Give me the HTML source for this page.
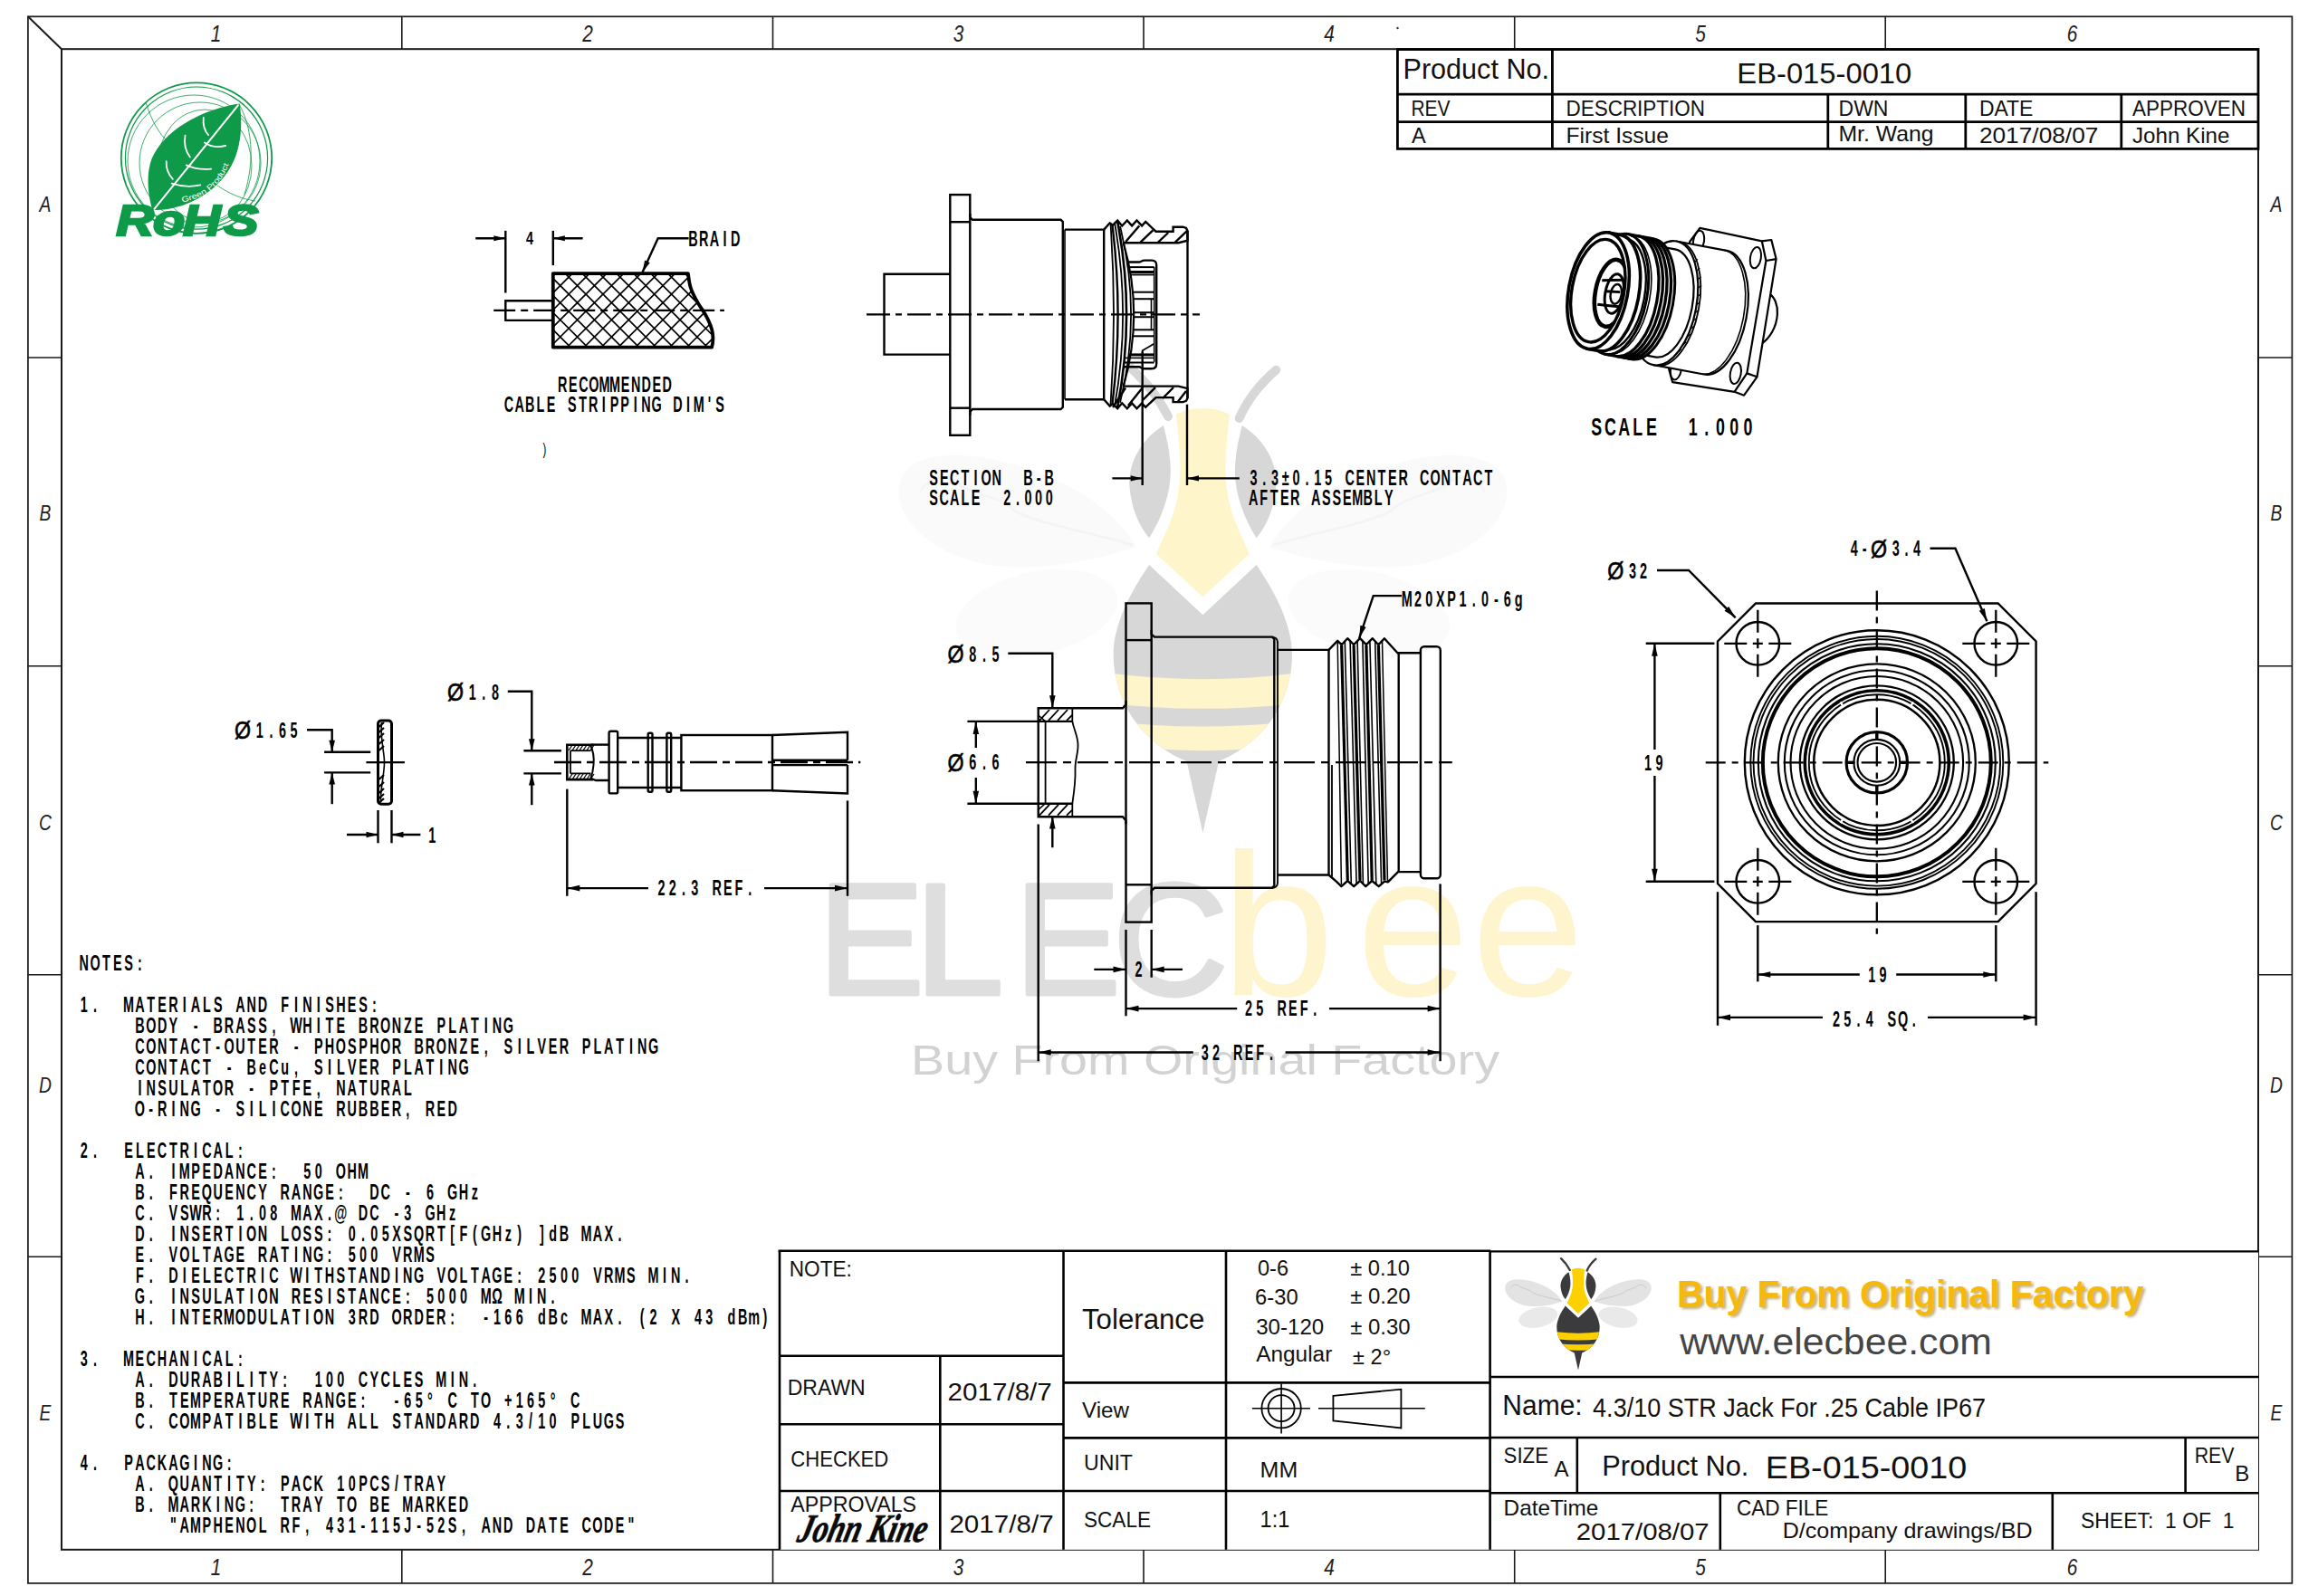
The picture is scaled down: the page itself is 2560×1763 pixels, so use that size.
<!DOCTYPE html>
<html lang="en"><head><meta charset="utf-8"><title>EB-015-0010 4.3/10 STR Jack For .25 Cable IP67</title>
<style>html,body{margin:0;padding:0;background:#fff}svg{display:block}text{font-family:"Liberation Sans",Arial,sans-serif;white-space:pre}.cad{text-anchor:middle}</style></head><body>
<svg width="2560" height="1763" viewBox="0 0 2560 1763">
<rect x="0" y="0" width="2560" height="1763" style="fill:#fff"/>
<defs>
<clipPath id="beeBody"><path d="M93.5 71L108.5 85L123.5 71C129 79 133.5 88 133.5 96C133.5 108 127 120 113 126L108.5 146L104 126C90 120 83.5 108 83.5 96C83.5 88 88 79 93.5 71Z"/></clipPath>
<g id="beeWings">
<g fill="#e3e3e3" stroke="none">
<ellipse cx="62" cy="84.5" rx="23" ry="11.5" transform="rotate(-12 62 84.5)" fill="#e9e9e9"/>
<ellipse cx="155" cy="84.5" rx="23" ry="11.5" transform="rotate(12 155 84.5)" fill="#e9e9e9"/>
<path d="M90 66C78 70 58 74 44 70C30 66 21 56 24 47C27 39 42 39 56 43C72 47.5 84 56 90 66Z"/>
<path d="M127 66C139 70 159 74 173 70C187 66 196 56 193 47C190 39 175 39 161 43C145 47.5 133 56 127 66Z"/>
</g>
<path d="M29.5 50.5C33 45 38 46 41 49C47 52 52 52 56 56C64 60 78 62 89 65.5" stroke="#bdbdbd" stroke-width="0.7" fill="none"/>
<path d="M187.5 50.5C184 45 179 46 176 49C170 52 165 52 161 56C153 60 139 62 128 65.5" stroke="#bdbdbd" stroke-width="0.7" fill="none"/>
</g>
<g id="beeCore">
<path d="M88.5 16Q95 22 98.8 29.5M129 16.5Q122 22.5 118.7 30" stroke="#3b3b3d" stroke-width="2.5" stroke-linecap="round" fill="none"/>
<path d="M101 28.8Q108.5 25.5 116 28.8C115 38 114 46 116 54C117.5 60 120 64 121.5 68L108.5 80L95.5 68C97 64 99.5 60 101 54C103 46 102 38 101 28.8Z" fill="#fdd000"/>
<path d="M97.5 32C91 36 87.5 43 88 49C88.5 55 90.5 60 93.5 63.5C97 58 99.5 51 99.5 45C99.5 40 98.5 36 97.5 32Z" fill="#3b3b3d"/>
<path d="M119.5 32C126 36 129.5 43 129 49C128.5 55 126.5 60 123.5 63.5C120 58 117.5 51 117.5 45C117.5 40 118.5 36 119.5 32Z" fill="#3b3b3d"/>
<path d="M93.5 71L108.5 85L123.5 71C129 79 133.5 88 133.5 96C133.5 108 127 120 113 126L108.5 146L104 126C90 120 83.5 108 83.5 96C83.5 88 88 79 93.5 71Z" fill="#3b3b3d"/>
<g clip-path="url(#beeBody)" fill="#fdd000"><path d="M80 101Q108.5 105 137 101L137 109.5Q108.5 113 80 109.5Z"/><path d="M80 114.5Q108.5 118 137 114.5L137 121Q108.5 125 80 121Z"/></g>
</g>
<filter id="blur2" x="-5%" y="-20%" width="110%" height="140%"><feGaussianBlur stdDeviation="1.6"/></filter>
</defs>
<g id="watermark">
<g transform="translate(900 343.6) scale(3.948)"><use href="#beeWings" opacity="0.16"/><use href="#beeCore" opacity="0.2"/></g>
<text x="903.7 1010.7 1120.7 1229.5" y="1098" font-size="175" fill="#dedede" stroke="#dedede" stroke-width="5" stroke-linejoin="round">ELEC</text>
<text x="1349 1498 1625" y="1100.4" font-size="224" fill="#fef5cf">bee</text>
<text x="1006" y="1186.6" font-size="45.5" textLength="650" lengthAdjust="spacingAndGlyphs" fill="#d2d2d2">Buy From Original Factory</text>
</g>
<g id="frame">
<rect x="30.9" y="18.3" width="2500.5" height="1730.6" stroke="#1a1a1a" stroke-width="1.7" fill="none"/>
<rect x="68" y="54.2" width="2426" height="1657.6" stroke="#1a1a1a" stroke-width="2" fill="none"/>
<path d="M30.9 18.3L68 54.2" stroke="#1a1a1a" stroke-width="2" />
<path d="M443.8 18.3L443.8 54.2" stroke="#1a1a1a" stroke-width="1.6" />
<path d="M443.8 1711.8L443.8 1748.9" stroke="#1a1a1a" stroke-width="1.6" />
<path d="M853.5 18.3L853.5 54.2" stroke="#1a1a1a" stroke-width="1.6" />
<path d="M853.5 1711.8L853.5 1748.9" stroke="#1a1a1a" stroke-width="1.6" />
<path d="M1263 18.3L1263 54.2" stroke="#1a1a1a" stroke-width="1.6" />
<path d="M1263 1711.8L1263 1748.9" stroke="#1a1a1a" stroke-width="1.6" />
<path d="M1672.7 18.3L1672.7 54.2" stroke="#1a1a1a" stroke-width="1.6" />
<path d="M1672.7 1711.8L1672.7 1748.9" stroke="#1a1a1a" stroke-width="1.6" />
<path d="M2082.2 18.3L2082.2 54.2" stroke="#1a1a1a" stroke-width="1.6" />
<path d="M2082.2 1711.8L2082.2 1748.9" stroke="#1a1a1a" stroke-width="1.6" />
<path d="M30.9 395L68 395" stroke="#1a1a1a" stroke-width="1.6" />
<path d="M2494 395L2531.4 395" stroke="#1a1a1a" stroke-width="1.6" />
<path d="M30.9 735.8L68 735.8" stroke="#1a1a1a" stroke-width="1.6" />
<path d="M2494 735.8L2531.4 735.8" stroke="#1a1a1a" stroke-width="1.6" />
<path d="M30.9 1076.8L68 1076.8" stroke="#1a1a1a" stroke-width="1.6" />
<path d="M2494 1076.8L2531.4 1076.8" stroke="#1a1a1a" stroke-width="1.6" />
<path d="M30.9 1388.3L68 1388.3" stroke="#1a1a1a" stroke-width="1.6" />
<path d="M2494 1388.3L2531.4 1388.3" stroke="#1a1a1a" stroke-width="1.6" />
<text transform="matrix(0.8 0 0 1 238.5 45.5)" x="0" y="0" font-size="26" font-style="italic" text-anchor="middle" fill="#222">1</text>
<text transform="matrix(0.8 0 0 1 238.5 1740)" x="0" y="0" font-size="26" font-style="italic" text-anchor="middle" fill="#222">1</text>
<text transform="matrix(0.8 0 0 1 649 45.5)" x="0" y="0" font-size="26" font-style="italic" text-anchor="middle" fill="#222">2</text>
<text transform="matrix(0.8 0 0 1 649 1740)" x="0" y="0" font-size="26" font-style="italic" text-anchor="middle" fill="#222">2</text>
<text transform="matrix(0.8 0 0 1 1058.5 45.5)" x="0" y="0" font-size="26" font-style="italic" text-anchor="middle" fill="#222">3</text>
<text transform="matrix(0.8 0 0 1 1058.5 1740)" x="0" y="0" font-size="26" font-style="italic" text-anchor="middle" fill="#222">3</text>
<text transform="matrix(0.8 0 0 1 1468 45.5)" x="0" y="0" font-size="26" font-style="italic" text-anchor="middle" fill="#222">4</text>
<text transform="matrix(0.8 0 0 1 1468 1740)" x="0" y="0" font-size="26" font-style="italic" text-anchor="middle" fill="#222">4</text>
<text transform="matrix(0.8 0 0 1 1878 45.5)" x="0" y="0" font-size="26" font-style="italic" text-anchor="middle" fill="#222">5</text>
<text transform="matrix(0.8 0 0 1 1878 1740)" x="0" y="0" font-size="26" font-style="italic" text-anchor="middle" fill="#222">5</text>
<text transform="matrix(0.8 0 0 1 2288.5 45.5)" x="0" y="0" font-size="26" font-style="italic" text-anchor="middle" fill="#222">6</text>
<text transform="matrix(0.8 0 0 1 2288.5 1740)" x="0" y="0" font-size="26" font-style="italic" text-anchor="middle" fill="#222">6</text>
<text transform="matrix(0.8 0 0 1 50 234)" x="0" y="0" font-size="24" font-style="italic" text-anchor="middle" fill="#222">A</text>
<text transform="matrix(0.8 0 0 1 2514 234)" x="0" y="0" font-size="24" font-style="italic" text-anchor="middle" fill="#222">A</text>
<text transform="matrix(0.8 0 0 1 50 574.5)" x="0" y="0" font-size="24" font-style="italic" text-anchor="middle" fill="#222">B</text>
<text transform="matrix(0.8 0 0 1 2514 574.5)" x="0" y="0" font-size="24" font-style="italic" text-anchor="middle" fill="#222">B</text>
<text transform="matrix(0.8 0 0 1 50 916.5)" x="0" y="0" font-size="24" font-style="italic" text-anchor="middle" fill="#222">C</text>
<text transform="matrix(0.8 0 0 1 2514 916.5)" x="0" y="0" font-size="24" font-style="italic" text-anchor="middle" fill="#222">C</text>
<text transform="matrix(0.8 0 0 1 50 1206.5)" x="0" y="0" font-size="24" font-style="italic" text-anchor="middle" fill="#222">D</text>
<text transform="matrix(0.8 0 0 1 2514 1206.5)" x="0" y="0" font-size="24" font-style="italic" text-anchor="middle" fill="#222">D</text>
<text transform="matrix(0.8 0 0 1 50 1568.5)" x="0" y="0" font-size="24" font-style="italic" text-anchor="middle" fill="#222">E</text>
<text transform="matrix(0.8 0 0 1 2514 1568.5)" x="0" y="0" font-size="24" font-style="italic" text-anchor="middle" fill="#222">E</text>
</g>
<g id="revtable">
<rect x="1543.4" y="54.6" width="950.6" height="109.8" fill="#fff" stroke="none"/>
<rect x="1543.4" y="54.6" width="950.6" height="109.8" stroke="#000" stroke-width="2.8" fill="none"/>
<path d="M1543.4 104.2L2494 104.2" stroke="#000" stroke-width="2.8" />
<path d="M1543.4 134.6L2494 134.6" stroke="#000" stroke-width="2.8" />
<path d="M1714.4 54.6L1714.4 164.4" stroke="#000" stroke-width="2.8" />
<path d="M2018.8 104.2L2018.8 164.4" stroke="#000" stroke-width="2.8" />
<path d="M2170.8 104.2L2170.8 164.4" stroke="#000" stroke-width="2.8" />
<path d="M2342.8 104.2L2342.8 164.4" stroke="#000" stroke-width="2.8" />
<text x="1549.5" y="87" font-size="30.5" textLength="161.5" lengthAdjust="spacingAndGlyphs" fill="#111" >Product No.</text>
<text x="1918.3" y="92.4" font-size="31" textLength="193" lengthAdjust="spacingAndGlyphs" fill="#111" >EB-015-0010</text>
<text x="1558.5" y="127.6" font-size="23.6" textLength="43" lengthAdjust="spacingAndGlyphs" fill="#111" >REV</text>
<text x="1729.5" y="128" font-size="23.6" textLength="153.5" lengthAdjust="spacingAndGlyphs" fill="#111" >DESCRIPTION</text>
<text x="2030.5" y="127.6" font-size="23.6" textLength="55" lengthAdjust="spacingAndGlyphs" fill="#111" >DWN</text>
<text x="2185.9" y="127.6" font-size="23.6" textLength="59.5" lengthAdjust="spacingAndGlyphs" fill="#111" >DATE</text>
<text x="2355" y="127.6" font-size="23.6" textLength="125" lengthAdjust="spacingAndGlyphs" fill="#111" >APPROVEN</text>
<text x="1559" y="158" font-size="23.6" fill="#111" >A</text>
<text x="1729.5" y="158" font-size="23.6" textLength="113.5" lengthAdjust="spacingAndGlyphs" fill="#111" >First Issue</text>
<text x="2030.5" y="155.5" font-size="23.6" textLength="105" lengthAdjust="spacingAndGlyphs" fill="#111" >Mr. Wang</text>
<text x="2185.9" y="158.3" font-size="23.6" textLength="131.5" lengthAdjust="spacingAndGlyphs" fill="#111" >2017/08/07</text>
<text x="2355" y="157.8" font-size="23.6" textLength="107.5" lengthAdjust="spacingAndGlyphs" fill="#111" >John Kine</text>
</g>
<circle cx="1543.5" cy="31" r="1.2" fill="#333"/>
<g id="titleblock">
<rect x="861" y="1381.8" width="1633" height="330" fill="#fff" stroke="none"/>
<path d="M859.6 1381.8L1646 1381.8" stroke="#000" stroke-width="2.6" />
<path d="M861 1381.8L861 1711.8" stroke="#000" stroke-width="2.6" />
<path d="M1174.5 1381.8L1174.5 1711.8" stroke="#000" stroke-width="2.6" />
<path d="M1354 1381.8L1354 1711.8" stroke="#000" stroke-width="2.6" />
<path d="M1645.6 1381.8L1645.6 1711.8" stroke="#000" stroke-width="2.6" />
<path d="M861 1497.8L1174.5 1497.8" stroke="#000" stroke-width="2.6" />
<path d="M861 1573.2L1174.5 1573.2" stroke="#000" stroke-width="2.6" />
<path d="M861 1647L1645.6 1647" stroke="#000" stroke-width="2.6" />
<path d="M1038.3 1497.8L1038.3 1711.8" stroke="#000" stroke-width="2.6" />
<path d="M1174.5 1527.4L1645.6 1527.4" stroke="#000" stroke-width="2.6" />
<path d="M1174.5 1588.4L1645.6 1588.4" stroke="#000" stroke-width="2.6" />
<path d="M1645.6 1382.4L2494 1382.4" stroke="#000" stroke-width="2.4" />
<path d="M1645.6 1521L2494 1521" stroke="#000" stroke-width="2.6" />
<path d="M1645.6 1588L2494 1588" stroke="#000" stroke-width="2.6" />
<path d="M1645.6 1649.2L2494 1649.2" stroke="#000" stroke-width="2.6" />
<path d="M1741.8 1588L1741.8 1649.2" stroke="#000" stroke-width="2.6" />
<path d="M2413.6 1588L2413.6 1649.2" stroke="#000" stroke-width="2.6" />
<path d="M1899.8 1649.2L1899.8 1711.8" stroke="#000" stroke-width="2.6" />
<path d="M2266.8 1649.2L2266.8 1711.8" stroke="#000" stroke-width="2.6" />
<text x="871.8" y="1410" font-size="24.3" textLength="69" lengthAdjust="spacingAndGlyphs" fill="#111" >NOTE:</text>
<text x="869.7" y="1541.2" font-size="23.6" textLength="86" lengthAdjust="spacingAndGlyphs" fill="#111" >DRAWN</text>
<text x="1046.6" y="1547.4" font-size="27.5" textLength="115.2" lengthAdjust="spacingAndGlyphs" fill="#111" >2017/8/7</text>
<text x="873.3" y="1619.8" font-size="23.6" textLength="108" lengthAdjust="spacingAndGlyphs" fill="#111" >CHECKED</text>
<text x="873.3" y="1669.8" font-size="23.6" textLength="138.8" lengthAdjust="spacingAndGlyphs" fill="#111" >APPROVALS</text>
<text x="1048.4" y="1693.4" font-size="27.5" textLength="115.2" lengthAdjust="spacingAndGlyphs" fill="#111" >2017/8/7</text>
<text transform="matrix(1 0 -0.25 1 879 1703)" x="0" y="0" style="font-family:Liberation Serif,serif" font-size="44" font-style="italic" font-weight="bold" textLength="142" lengthAdjust="spacingAndGlyphs" fill="#0a0a0a" stroke="#0a0a0a" stroke-width="0.8">John Kine</text>
<text x="1195" y="1468" font-size="31" textLength="135.3" lengthAdjust="spacingAndGlyphs" fill="#111" >Tolerance</text>
<text x="1195" y="1565.5" font-size="23.5" textLength="52" lengthAdjust="spacingAndGlyphs" fill="#111" >View</text>
<text x="1197" y="1623.5" font-size="23" textLength="54" lengthAdjust="spacingAndGlyphs" fill="#111" >UNIT</text>
<text x="1197" y="1687.2" font-size="23" textLength="74" lengthAdjust="spacingAndGlyphs" fill="#111" >SCALE</text>
<text x="1389" y="1408.9" font-size="23" textLength="34" lengthAdjust="spacingAndGlyphs" fill="#111" >0-6</text>
<text x="1491.2" y="1408.9" font-size="23" textLength="65.6" lengthAdjust="spacingAndGlyphs" fill="#111" >± 0.10</text>
<text x="1386.1" y="1440.8" font-size="23" textLength="47.5" lengthAdjust="spacingAndGlyphs" fill="#111" >6-30</text>
<text x="1491.2" y="1439.7" font-size="23" textLength="66.3" lengthAdjust="spacingAndGlyphs" fill="#111" >± 0.20</text>
<text x="1387.2" y="1474.2" font-size="23" textLength="75" lengthAdjust="spacingAndGlyphs" fill="#111" >30-120</text>
<text x="1491.2" y="1474.2" font-size="23" textLength="66.3" lengthAdjust="spacingAndGlyphs" fill="#111" >± 0.30</text>
<text x="1387.2" y="1504.2" font-size="23" textLength="84.1" lengthAdjust="spacingAndGlyphs" fill="#111" >Angular</text>
<text x="1494.1" y="1506.8" font-size="23" textLength="42" lengthAdjust="spacingAndGlyphs" fill="#111" >± 2°</text>
<text x="1391.6" y="1631.8" font-size="23.6" textLength="41.6" lengthAdjust="spacingAndGlyphs" fill="#111" >MM</text>
<text x="1391.6" y="1687.2" font-size="25" textLength="32.6" lengthAdjust="spacingAndGlyphs" fill="#111" >1:1</text>
<circle cx="1415.1" cy="1555.7" r="21.7" stroke="#000" stroke-width="1.8" fill="none"/>
<circle cx="1415.1" cy="1555.7" r="14.5" stroke="#000" stroke-width="1.8" fill="none"/>
<path d="M1382.9 1555.7L1447 1555.7" stroke="#000" stroke-width="1.6" />
<path d="M1415.1 1528.5L1415.1 1583.6" stroke="#000" stroke-width="1.6" />
<path d="M1472.4 1541.9L1547.4 1534.7L1547.4 1577.4L1472.4 1569.5Z" stroke="#000" stroke-width="1.8" fill="none" />
<path d="M1456 1555.7L1573.8 1555.7" stroke="#000" stroke-width="1.6" />
<text x="1659.3" y="1562.8" font-size="31" textLength="88.4" lengthAdjust="spacingAndGlyphs" fill="#111" >Name:</text>
<text x="1759.1" y="1564.8" font-size="29" textLength="434" lengthAdjust="spacingAndGlyphs" fill="#111" >4.3/10 STR Jack For .25 Cable IP67</text>
<text x="1660.6" y="1615.5" font-size="24" textLength="49.4" lengthAdjust="spacingAndGlyphs" fill="#111" >SIZE</text>
<text x="1716.5" y="1630.9" font-size="24" fill="#111" >A</text>
<text x="1769.2" y="1629.7" font-size="31" textLength="162.2" lengthAdjust="spacingAndGlyphs" fill="#111" >Product No.</text>
<text x="1949.7" y="1632.5" font-size="35" textLength="222.6" lengthAdjust="spacingAndGlyphs" fill="#111" >EB-015-0010</text>
<text x="2423.7" y="1615.5" font-size="24" textLength="43.8" lengthAdjust="spacingAndGlyphs" fill="#111" >REV</text>
<text x="2468.3" y="1635.8" font-size="24" fill="#111" >B</text>
<text x="1660.6" y="1673.5" font-size="24" textLength="104.6" lengthAdjust="spacingAndGlyphs" fill="#111" >DateTime</text>
<text x="1740.8" y="1700.6" font-size="25.5" textLength="146.8" lengthAdjust="spacingAndGlyphs" fill="#111" >2017/08/07</text>
<text x="1918" y="1673.5" font-size="24" textLength="101.4" lengthAdjust="spacingAndGlyphs" fill="#111" >CAD FILE</text>
<text x="1968.7" y="1698.6" font-size="24" textLength="275.8" lengthAdjust="spacingAndGlyphs" fill="#111" >D/company drawings/BD</text>
<text x="2298" y="1687.7" font-size="24" textLength="169.5" lengthAdjust="spacingAndGlyphs" xml:space="preserve" fill="#111" >SHEET:  1 OF  1</text>
</g>
<g id="logo">
<g transform="translate(1640 1375) scale(0.9491)"><use href="#beeWings"/><use href="#beeCore"/></g>
<text x="1854.5" y="1446.4" font-size="43" font-weight="bold" textLength="515.4" lengthAdjust="spacingAndGlyphs" fill="#8a6d10" opacity="0.55" filter="url(#blur2)">Buy From Original Factory</text>
<text x="1852" y="1443.9" font-size="43" font-weight="bold" textLength="515.4" lengthAdjust="spacingAndGlyphs" fill="#f6b90b">Buy From Original Factory</text>
<text x="1855.2" y="1495.8" font-size="41.5" textLength="344.7" lengthAdjust="spacingAndGlyphs" fill="#454545">www.elecbee.com</text>
</g>
<g id="notes">
<text class="cad" xml:space="preserve" transform="matrix(0.6 0 0 1 86.6 1072)" x="10.28 30.83 51.38 71.93 92.48 113.03" y="0" font-size="24" font-weight="bold" fill="#000" >NOTES:</text>
<text class="cad" xml:space="preserve" transform="matrix(0.6 0 0 1 86.6 1118)" x="10.28 30.83 51.38 71.93 92.48 113.03 133.57 154.12 174.68 195.23 215.78 236.32 256.88 277.43 297.98 318.53 339.07 359.62 380.18 400.73 421.28 441.83 462.38 482.93 503.47 524.03 544.58" y="0" font-size="24" font-weight="bold" fill="#000" >1.  MATERIALS AND FINISHES:</text>
<text class="cad" xml:space="preserve" transform="matrix(0.6 0 0 1 148.25 1141)" x="10.28 30.83 51.38 71.93 92.48 113.03 133.57 154.12 174.68 195.23 215.78 236.32 256.88 277.43 297.98 318.53 339.07 359.62 380.18 400.73 421.28 441.83 462.38 482.93 503.47 524.03 544.58 565.12 585.68 606.23 626.77 647.33 667.88 688.43" y="0" font-size="24" font-weight="bold" fill="#000" >BODY - BRASS, WHITE BRONZE PLATING</text>
<text class="cad" xml:space="preserve" transform="matrix(0.6 0 0 1 148.25 1164)" x="10.28 30.83 51.38 71.93 92.48 113.03 133.57 154.12 174.68 195.23 215.78 236.32 256.88 277.43 297.98 318.53 339.07 359.62 380.18 400.73 421.28 441.83 462.38 482.93 503.47 524.03 544.58 565.12 585.68 606.23 626.77 647.33 667.88 688.43 708.98 729.52 750.08 770.62 791.17 811.73 832.28 852.83 873.38 893.93 914.48 935.02 955.58" y="0" font-size="24" font-weight="bold" fill="#000" >CONTACT-OUTER - PHOSPHOR BRONZE, SILVER PLATING</text>
<text class="cad" xml:space="preserve" transform="matrix(0.6 0 0 1 148.25 1187)" x="10.28 30.83 51.38 71.93 92.48 113.03 133.57 154.12 174.68 195.23 215.78 236.32 256.88 277.43 297.98 318.53 339.07 359.62 380.18 400.73 421.28 441.83 462.38 482.93 503.47 524.03 544.58 565.12 585.68 606.23" y="0" font-size="24" font-weight="bold" fill="#000" >CONTACT - BeCu, SILVER PLATING</text>
<text class="cad" xml:space="preserve" transform="matrix(0.6 0 0 1 148.25 1210)" x="10.28 30.83 51.38 71.93 92.48 113.03 133.57 154.12 174.68 195.23 215.78 236.32 256.88 277.43 297.98 318.53 339.07 359.62 380.18 400.73 421.28 441.83 462.38 482.93 503.47" y="0" font-size="24" font-weight="bold" fill="#000" >INSULATOR - PTFE, NATURAL</text>
<text class="cad" xml:space="preserve" transform="matrix(0.6 0 0 1 148.25 1233)" x="10.28 30.83 51.38 71.93 92.48 113.03 133.57 154.12 174.68 195.23 215.78 236.32 256.88 277.43 297.98 318.53 339.07 359.62 380.18 400.73 421.28 441.83 462.38 482.93 503.47 524.03 544.58 565.12 585.68" y="0" font-size="24" font-weight="bold" fill="#000" >O-RING - SILICONE RUBBER, RED</text>
<text class="cad" xml:space="preserve" transform="matrix(0.6 0 0 1 86.6 1279)" x="10.28 30.83 51.38 71.93 92.48 113.03 133.57 154.12 174.68 195.23 215.78 236.32 256.88 277.43 297.98" y="0" font-size="24" font-weight="bold" fill="#000" >2.  ELECTRICAL:</text>
<text class="cad" xml:space="preserve" transform="matrix(0.6 0 0 1 148.25 1302)" x="10.28 30.83 51.38 71.93 92.48 113.03 133.57 154.12 174.68 195.23 215.78 236.32 256.88 277.43 297.98 318.53 339.07 359.62 380.18 400.73 421.28" y="0" font-size="24" font-weight="bold" fill="#000" >A. IMPEDANCE:  50 OHM</text>
<text class="cad" xml:space="preserve" transform="matrix(0.6 0 0 1 148.25 1325)" x="10.28 30.83 51.38 71.93 92.48 113.03 133.57 154.12 174.68 195.23 215.78 236.32 256.88 277.43 297.98 318.53 339.07 359.62 380.18 400.73 421.28 441.83 462.38 482.93 503.47 524.03 544.58 565.12 585.68 606.23 626.77" y="0" font-size="24" font-weight="bold" fill="#000" >B. FREQUENCY RANGE:  DC - 6 GHz</text>
<text class="cad" xml:space="preserve" transform="matrix(0.6 0 0 1 148.25 1348)" x="10.28 30.83 51.38 71.93 92.48 113.03 133.57 154.12 174.68 195.23 215.78 236.32 256.88 277.43 297.98 318.53 339.07 359.62 380.18 400.73 421.28 441.83 462.38 482.93 503.47 524.03 544.58 565.12 585.68" y="0" font-size="24" font-weight="bold" fill="#000" >C. VSWR: 1.08 MAX.@ DC -3 GHz</text>
<text class="cad" xml:space="preserve" transform="matrix(0.6 0 0 1 148.25 1371)" x="10.28 30.83 51.38 71.93 92.48 113.03 133.57 154.12 174.68 195.23 215.78 236.32 256.88 277.43 297.98 318.53 339.07 359.62 380.18 400.73 421.28 441.83 462.38 482.93 503.47 524.03 544.58 565.12 585.68 606.23 626.77 647.33 667.88 688.43 708.98 729.52 750.08 770.62 791.17 811.73 832.28 852.83 873.38 893.93" y="0" font-size="24" font-weight="bold" fill="#000" >D. INSERTION LOSS: 0.05XSQRT[F(GHz) ]dB MAX.</text>
<text class="cad" xml:space="preserve" transform="matrix(0.6 0 0 1 148.25 1394)" x="10.28 30.83 51.38 71.93 92.48 113.03 133.57 154.12 174.68 195.23 215.78 236.32 256.88 277.43 297.98 318.53 339.07 359.62 380.18 400.73 421.28 441.83 462.38 482.93 503.47 524.03 544.58" y="0" font-size="24" font-weight="bold" fill="#000" >E. VOLTAGE RATING: 500 VRMS</text>
<text class="cad" xml:space="preserve" transform="matrix(0.6 0 0 1 148.25 1417)" x="10.28 30.83 51.38 71.93 92.48 113.03 133.57 154.12 174.68 195.23 215.78 236.32 256.88 277.43 297.98 318.53 339.07 359.62 380.18 400.73 421.28 441.83 462.38 482.93 503.47 524.03 544.58 565.12 585.68 606.23 626.77 647.33 667.88 688.43 708.98 729.52 750.08 770.62 791.17 811.73 832.28 852.83 873.38 893.93 914.48 935.02 955.58 976.12 996.68 1017.23" y="0" font-size="24" font-weight="bold" fill="#000" >F. DIELECTRIC WITHSTANDING VOLTAGE: 2500 VRMS MIN.</text>
<text class="cad" xml:space="preserve" transform="matrix(0.6 0 0 1 148.25 1440)" x="10.28 30.83 51.38 71.93 92.48 113.03 133.57 154.12 174.68 195.23 215.78 236.32 256.88 277.43 297.98 318.53 339.07 359.62 380.18 400.73 421.28 441.83 462.38 482.93 503.47 524.03 544.58 565.12 585.68 606.23 626.77 647.33 667.88 688.43 708.98 729.52 750.08 770.62" y="0" font-size="24" font-weight="bold" fill="#000" >G. INSULATION RESISTANCE: 5000 MΩ MIN.</text>
<text class="cad" xml:space="preserve" transform="matrix(0.6 0 0 1 148.25 1463)" x="10.28 30.83 51.38 71.93 92.48 113.03 133.57 154.12 174.68 195.23 215.78 236.32 256.88 277.43 297.98 318.53 339.07 359.62 380.18 400.73 421.28 441.83 462.38 482.93 503.47 524.03 544.58 565.12 585.68 606.23 626.77 647.33 667.88 688.43 708.98 729.52 750.08 770.62 791.17 811.73 832.28 852.83 873.38 893.93 914.48 935.02 955.58 976.12 996.68 1017.23 1037.78 1058.33 1078.88 1099.42 1119.98 1140.53 1161.08" y="0" font-size="24" font-weight="bold" fill="#000" >H. INTERMODULATION 3RD ORDER:  -166 dBc MAX. (2 X 43 dBm)</text>
<text class="cad" xml:space="preserve" transform="matrix(0.6 0 0 1 86.6 1509)" x="10.28 30.83 51.38 71.93 92.48 113.03 133.57 154.12 174.68 195.23 215.78 236.32 256.88 277.43 297.98" y="0" font-size="24" font-weight="bold" fill="#000" >3.  MECHANICAL:</text>
<text class="cad" xml:space="preserve" transform="matrix(0.6 0 0 1 148.25 1532)" x="10.28 30.83 51.38 71.93 92.48 113.03 133.57 154.12 174.68 195.23 215.78 236.32 256.88 277.43 297.98 318.53 339.07 359.62 380.18 400.73 421.28 441.83 462.38 482.93 503.47 524.03 544.58 565.12 585.68 606.23 626.77" y="0" font-size="24" font-weight="bold" fill="#000" >A. DURABILITY:  100 CYCLES MIN.</text>
<text class="cad" xml:space="preserve" transform="matrix(0.6 0 0 1 148.25 1555)" x="10.28 30.83 51.38 71.93 92.48 113.03 133.57 154.12 174.68 195.23 215.78 236.32 256.88 277.43 297.98 318.53 339.07 359.62 380.18 400.73 421.28 441.83 462.38 482.93 503.47 524.03 544.58 565.12 585.68 606.23 626.77 647.33 667.88 688.43 708.98 729.52 750.08 770.62 791.17 811.73" y="0" font-size="24" font-weight="bold" fill="#000" >B. TEMPERATURE RANGE:  -65° C TO +165° C</text>
<text class="cad" xml:space="preserve" transform="matrix(0.6 0 0 1 148.25 1578)" x="10.28 30.83 51.38 71.93 92.48 113.03 133.57 154.12 174.68 195.23 215.78 236.32 256.88 277.43 297.98 318.53 339.07 359.62 380.18 400.73 421.28 441.83 462.38 482.93 503.47 524.03 544.58 565.12 585.68 606.23 626.77 647.33 667.88 688.43 708.98 729.52 750.08 770.62 791.17 811.73 832.28 852.83 873.38 893.93" y="0" font-size="24" font-weight="bold" fill="#000" >C. COMPATIBLE WITH ALL STANDARD 4.3/10 PLUGS</text>
<text class="cad" xml:space="preserve" transform="matrix(0.6 0 0 1 86.6 1624)" x="10.28 30.83 51.38 71.93 92.48 113.03 133.57 154.12 174.68 195.23 215.78 236.32 256.88 277.43" y="0" font-size="24" font-weight="bold" fill="#000" >4.  PACKAGING:</text>
<text class="cad" xml:space="preserve" transform="matrix(0.6 0 0 1 148.25 1647)" x="10.28 30.83 51.38 71.93 92.48 113.03 133.57 154.12 174.68 195.23 215.78 236.32 256.88 277.43 297.98 318.53 339.07 359.62 380.18 400.73 421.28 441.83 462.38 482.93 503.47 524.03 544.58 565.12" y="0" font-size="24" font-weight="bold" fill="#000" >A. QUANTITY: PACK 10PCS/TRAY</text>
<text class="cad" xml:space="preserve" transform="matrix(0.6 0 0 1 148.25 1670)" x="10.28 30.83 51.38 71.93 92.48 113.03 133.57 154.12 174.68 195.23 215.78 236.32 256.88 277.43 297.98 318.53 339.07 359.62 380.18 400.73 421.28 441.83 462.38 482.93 503.47 524.03 544.58 565.12 585.68 606.23" y="0" font-size="24" font-weight="bold" fill="#000" >B. MARKING:  TRAY TO BE MARKED</text>
<text class="cad" xml:space="preserve" transform="matrix(0.6 0 0 1 185.24 1693)" x="10.28 30.83 51.38 71.93 92.48 113.03 133.57 154.12 174.68 195.23 215.78 236.32 256.88 277.43 297.98 318.53 339.07 359.62 380.18 400.73 421.28 441.83 462.38 482.93 503.47 524.03 544.58 565.12 585.68 606.23 626.77 647.33 667.88 688.43 708.98 729.52 750.08 770.62 791.17 811.73 832.28 852.83" y="0" font-size="24" font-weight="bold" fill="#000" >"AMPHENOL RF, 431-115J-52S, AND DATE CODE"</text>
</g>
<g id="rohs">
<circle cx="217" cy="174.6" r="83.2" stroke="#0e9a49" stroke-width="1.8" fill="none"/>
<circle cx="217" cy="174.6" r="78.6" stroke="#0e9a49" stroke-width="1.2" fill="none"/>
<circle cx="221" cy="180" r="67" stroke="#0e9a49" stroke-width="0.8" fill="none"/>
<ellipse cx="226" cy="183" rx="52" ry="62" stroke="#0e9a49" stroke-width="0.8" fill="none"/>
<circle cx="214" cy="178" r="73" stroke="#0e9a49" stroke-width="0.8" fill="none"/>
<path d="M161 113C168 135 176 148 186 157M240 205C255 215 268 220 282 222M264 115C278 140 282 175 270 215" stroke="#0e9a49" stroke-width="0.8" fill="none" />
<path d="M264.64 114.52C227.14 119.29 181.9 141.9 167.62 175.24C160.48 194.29 164.05 216.9 168.21 231.79C197.38 233.57 236.67 216.9 254.52 184.76C267.62 162.14 267.62 133.57 264.64 114.52Z" fill="#0e9a49" stroke="none"/>
<path d="M262.86 116.31L170.6 230.6" stroke="#fff" stroke-width="2" stroke-linecap="round"/>
<path d="M230.12 149.05Q223.57 141.9 224.76 130" stroke="#fff" stroke-width="1.8" fill="none" stroke-linecap="round"/>
<path d="M225.95 157.38Q236.67 164.52 249.17 160.95" stroke="#fff" stroke-width="1.8" fill="none" stroke-linecap="round"/>
<path d="M209.88 173.45Q202.14 163.33 204.52 149.64" stroke="#fff" stroke-width="1.8" fill="none" stroke-linecap="round"/>
<path d="M205.71 182.38Q218.81 188.33 233.1 186.55" stroke="#fff" stroke-width="1.8" fill="none" stroke-linecap="round"/>
<path d="M190.83 197.86Q183.1 189.52 183.69 178.21" stroke="#fff" stroke-width="1.8" fill="none" stroke-linecap="round"/>
<path d="M189.64 202.62Q205.71 207.98 221.19 204.4" stroke="#fff" stroke-width="1.8" fill="none" stroke-linecap="round"/>
<path id="gpPath" d="M200.95 223.45Q239.05 216.9 252.74 181.19" fill="none" stroke="none"/>
<text font-size="8.6" fill="#fff"><textPath href="#gpPath" textLength="70" lengthAdjust="spacingAndGlyphs">Green Product</textPath></text>
<text transform="matrix(1.19 0 0 1 0 0)" x="107.7 142.0 169.7 207.6" y="259.6" font-size="48.5" font-weight="bold" font-style="italic" fill="#0e9a49" stroke="#0e9a49" stroke-width="2.4" stroke-linejoin="miter">RoHS</text>
</g>
<g id="braid">
<path d="M558.3 254.9L558.3 323.5" stroke="#000" stroke-width="2.4" />
<path d="M610.8 254.9L610.8 293.1" stroke="#000" stroke-width="2.4" />
<path d="M525.2 263.2L558.3 263.2" stroke="#000" stroke-width="2.4" />
<path d="M558.3 263.2L545.3 266.2L545.3 260.2Z" fill="#000"/>
<path d="M610.8 263.2L643.6 263.2" stroke="#000" stroke-width="2.4" />
<path d="M610.8 263.2L623.8 260.2L623.8 266.2Z" fill="#000"/>
<text class="cad" xml:space="preserve" transform="matrix(0.72 0 0 1 579.15 270.3)" x="8.12" y="0" font-size="20" font-weight="bold" fill="#000" >4</text>
<path d="M610.8 332.2L558.3 332.2L558.3 353.9L610.8 353.9" stroke="#000" stroke-width="2.4" fill="none" />
<clipPath id="braidClip"><path d="M610.8 302.1L759.9 302.1C760.5 306 761 312 762.6 317.3C765 325 768 330 771.9 336.6C776 343 778.5 346 780.6 350.4C784 357 786 362 786.8 367C787.6 372 787.8 378 786.1 383.6L610.8 383.6Z"/></clipPath>
<g clip-path="url(#braidClip)" stroke="#000" stroke-width="1.7">
<path d="M510.8 302.1l82 82M512.8 383.6l82 -82M529.7 302.1l82 82M531.7 383.6l82 -82M548.6 302.1l82 82M550.6 383.6l82 -82M567.5 302.1l82 82M569.5 383.6l82 -82M586.4 302.1l82 82M588.4 383.6l82 -82M605.3 302.1l82 82M607.3 383.6l82 -82M624.2 302.1l82 82M626.2 383.6l82 -82M643.1 302.1l82 82M645.1 383.6l82 -82M662 302.1l82 82M664 383.6l82 -82M680.9 302.1l82 82M682.9 383.6l82 -82M699.8 302.1l82 82M701.8 383.6l82 -82M718.7 302.1l82 82M720.7 383.6l82 -82M737.6 302.1l82 82M739.6 383.6l82 -82M756.5 302.1l82 82M758.5 383.6l82 -82M775.4 302.1l82 82M777.4 383.6l82 -82M794.3 302.1l82 82M796.3 383.6l82 -82" fill="none"/>
</g>
<path d="M610.8 302.1L759.9 302.1C760.5 306 761 312 762.6 317.3C765 325 768 330 771.9 336.6C776 343 778.5 346 780.6 350.4C784 357 786 362 786.8 367C787.6 372 787.8 378 786.1 383.6L610.8 383.6Z" stroke="#000" stroke-width="3.8" fill="none" stroke-linejoin="round"/>
<path d="M545.2 342.8L799.9 342.8" stroke="#000" stroke-width="2.3" stroke-dasharray="24 6 8 6"/>
<path d="M709.5 300.7L726.7 263.2L760.6 263.2" stroke="#000" stroke-width="2.4" fill="none" />
<path d="M709.5 300.7L712.1 287.59L717.74 290.18Z" fill="#000"/>
<text class="cad" xml:space="preserve" transform="matrix(0.6 0 0 1 759.6 272)" x="9.75 29.25 48.75 68.25 87.75" y="0" font-size="24" font-weight="bold" fill="#000" >BRAID</text>
<text class="cad" xml:space="preserve" transform="matrix(0.6 0 0 1 615.48 432.6)" x="9.63 28.88 48.12 67.38 86.62 105.88 125.13 144.38 163.63 182.88 202.13" y="0" font-size="24" font-weight="bold" fill="#000" >RECOMMENDED</text>
<text class="cad" xml:space="preserve" transform="matrix(0.6 0 0 1 556.17 454.7)" x="9.71 29.13 48.54 67.96 87.38 106.79 126.21 145.62 165.04 184.46 203.88 223.29 242.71 262.12 281.54 300.96 320.38 339.79 359.21 378.63 398.04" y="0" font-size="24" font-weight="bold" fill="#000" >CABLE STRIPPING DIM'S</text>
<text class="cad" xml:space="preserve" transform="matrix(0.6 0 0 1 595.65 502)" x="9.75" y="0" font-size="19" font-weight="normal" fill="#000" >)</text>
</g>
<g id="secBB">
<rect x="1049.3" y="215.1" width="22" height="265.7" stroke="#000" stroke-width="2.4" fill="none"/>
<path d="M1049.3 245.2L1071.3 245.2" stroke="#000" stroke-width="2.4" />
<path d="M1049.3 450.7L1071.3 450.7" stroke="#000" stroke-width="2.4" />
<path d="M1049.3 302.7L976.5 302.7L976.5 391.6L1049.3 391.6" stroke="#000" stroke-width="2.4" fill="none" />
<path d="M1071.3 236L1071.3 240L1074 242.8L1171.5 242.8L1173.8 245L1173.8 347.4" stroke="#000" stroke-width="2.4" fill="none" />
<path d="M1071.3 458.8L1071.3 454.8L1074 452L1171.5 452L1173.8 449.8L1173.8 347.4" stroke="#000" stroke-width="2.4" fill="none" />
<path d="M1176 253.6L1176 441.2" stroke="#000" stroke-width="1.6" />
<path d="M1176 253.6L1219.2 253.6" stroke="#000" stroke-width="2.4" fill="none" />
<path d="M1176 441.2L1219.2 441.2" stroke="#000" stroke-width="2.4" fill="none" />
<path d="M1219.2 253.6L1219.2 441.2" stroke="#000" stroke-width="2.4" />
<path d="M1219.2 253.6L1225.7 246.3L1228.8 248.8L1234.2 243.5L1239.2 249.5L1244.8 243.5L1250.1 249.4L1255.5 243.5L1261.1 249.4L1265.2 245L1276.5 255.7L1295.6 255.7L1295.6 250.7L1306.5 250.7L1310 252L1311.5 255L1311.5 265.7L1301.5 268.2L1240.7 268.2" stroke="#000" stroke-width="2.4" fill="none" />
<path d="M1219.2 441.2L1225.7 448.5L1228.8 446L1234.2 451.3L1239.2 445.3L1244.8 451.3L1250.1 445.4L1255.5 451.3L1261.1 445.4L1265.2 449.8L1276.5 439.1L1295.6 439.1L1295.6 444.1L1306.5 444.1L1310 442.8L1311.5 439.8L1311.5 429.1L1301.5 426.6L1240.7 426.6" stroke="#000" stroke-width="2.4" fill="none" />
<path d="M1311.5 255L1311.5 439.8" stroke="#000" stroke-width="2.4" />
<path d="M1243.2 267L1258.3 249.4" stroke="#000" stroke-width="2.4" />
<path d="M1259.5 267.6L1273.3 254.4" stroke="#000" stroke-width="2.4" />
<path d="M1279 267.6L1290.2 257" stroke="#000" stroke-width="2.4" />
<path d="M1297.8 267.6L1310.9 255.1" stroke="#000" stroke-width="2.4" />
<path d="M1229 450L1243 428.5" stroke="#000" stroke-width="2.4" />
<path d="M1246 448L1262 428" stroke="#000" stroke-width="2.4" />
<path d="M1262 442L1276 428" stroke="#000" stroke-width="2.4" />
<path d="M1284 440L1296 428" stroke="#000" stroke-width="2.4" />
<path d="M1301 443.5L1310 432" stroke="#000" stroke-width="2.4" />
<path d="M1226.5 247Q1233.5 347.4 1226.5 447.8" stroke="#000" stroke-width="1.8" fill="none" />
<path d="M1228.5 249Q1240.7 347.4 1228.5 445.8" stroke="#000" stroke-width="2.4" fill="none" />
<path d="M1231 246Q1249.2 347.4 1231 448.8" stroke="#000" stroke-width="1.8" fill="none" />
<path d="M1234 244Q1254.2 347.4 1234 450.8" stroke="#000" stroke-width="2.6" fill="none" />
<path d="M1237 250Q1261.2 347.4 1237 444.8" stroke="#000" stroke-width="1.8" fill="none" />
<path d="M1240.7 268.2Q1263.7 347.4 1240.7 426.6" stroke="#000" stroke-width="2.2" fill="none" />
<path d="M1246.5 289.5L1258 289.5C1260 289.5 1261 287.6 1264 287.6L1272 287.6C1275.5 287.6 1277.2 290 1277.2 293L1277.2 401.8C1277.2 404.8 1275.5 407.2 1272 407.2L1264 407.2C1261 407.2 1260 405.3 1258 405.3L1240 405.3" stroke="#000" stroke-width="2.4" fill="none" />
<path d="M1274.7 295L1274.7 399.8" stroke="#000" stroke-width="1.6" />
<path d="M1247 295.1L1274.7 295.1" stroke="#000" stroke-width="2" />
<path d="M1248 300.6L1274.7 300.6" stroke="#000" stroke-width="3.2" />
<path d="M1248.5 303.6L1274.7 303.6" stroke="#000" stroke-width="1.6" />
<path d="M1251 322.7L1274.7 322.7" stroke="#000" stroke-width="2" />
<path d="M1251.8 330.2L1274.7 330.2" stroke="#000" stroke-width="2" />
<path d="M1252 345.2L1274.7 345.2" stroke="#000" stroke-width="2" />
<path d="M1252 350.2L1274.7 350.2" stroke="#000" stroke-width="2" />
<path d="M1251.8 364.3L1274.7 364.3" stroke="#000" stroke-width="2" />
<path d="M1251 371.3L1274.7 371.3" stroke="#000" stroke-width="2" />
<path d="M1247 391.9L1274.7 391.9" stroke="#000" stroke-width="3" />
<path d="M1243 395.4L1274.7 395.4" stroke="#000" stroke-width="1.6" />
<path d="M1241 400.4L1274.7 400.4" stroke="#000" stroke-width="2" />
<path d="M1271.5 330.2L1271.5 364.3" stroke="#000" stroke-width="1.6" />
<path d="M1261.7 390L1261.7 387.3L1274 380" stroke="#000" stroke-width="1.8" fill="none" />
<path d="M957 347.4L1325 347.4" stroke="#000" stroke-width="2.3" stroke-dasharray="26 6 7 6"/>
<path d="M1261.7 388.5L1261.7 536" stroke="#000" stroke-width="2.4" />
<path d="M1311 446.7L1311 536" stroke="#000" stroke-width="2.4" />
<path d="M1228.4 528.4L1261.7 528.4" stroke="#000" stroke-width="2.4" />
<path d="M1261.7 528.4L1248.7 531.5L1248.7 525.3Z" fill="#000"/>
<path d="M1311 528.4L1368.8 528.4" stroke="#000" stroke-width="2.4" />
<path d="M1311 528.4L1324 525.3L1324 531.5Z" fill="#000"/>
<text class="cad" xml:space="preserve" transform="matrix(0.6 0 0 1 1025.3 536.3)" x="9.67 29 48.33 67.67 87 106.33 125.67 145 164.33 183.67 203 222.33" y="0" font-size="24" font-weight="bold" fill="#000" >SECTION  B-B</text>
<text class="cad" xml:space="preserve" transform="matrix(0.6 0 0 1 1025.3 558.4)" x="9.67 29 48.33 67.67 87 106.33 125.67 145 164.33 183.67 203 222.33" y="0" font-size="24" font-weight="bold" fill="#000" >SCALE  2.000</text>
<text class="cad" xml:space="preserve" transform="matrix(0.6 0 0 1 1378.5 536.1)" x="9.83 29.5 49.17 68.83 88.5 108.17 127.83 147.5 167.17 186.83 206.5 226.17 245.83 265.5 285.17 304.83 324.5 344.17 363.83 383.5 403.17 422.83 442.5" y="0" font-size="24" font-weight="bold" fill="#000" >3.3±0.15 CENTER CONTACT</text>
<text class="cad" xml:space="preserve" transform="matrix(0.6 0 0 1 1378.5 558.2)" x="9.58 28.75 47.92 67.08 86.25 105.42 124.58 143.75 162.92 182.08 201.25 220.42 239.58 258.75" y="0" font-size="24" font-weight="bold" fill="#000" >AFTER ASSEMBLY</text>
</g>
<g id="washer">
<rect x="417.5" y="796" width="15" height="92.2" rx="3.5" ry="3.5" stroke="#000" stroke-width="3" fill="none"/>
<path d="M421.5 798C419.5 815 424.5 830 424.5 842C424.5 856 420 870 420.5 886" stroke="#000" stroke-width="1.6" fill="none" />
<path d="M418.5 803L424 798" stroke="#000" stroke-width="2.2" />
<path d="M418.5 809L424 804" stroke="#000" stroke-width="2.2" />
<path d="M418.5 815L424 810" stroke="#000" stroke-width="2.2" />
<path d="M418.5 822L424 817" stroke="#000" stroke-width="2.2" />
<path d="M418.5 829L424 824" stroke="#000" stroke-width="2.2" />
<path d="M418.5 861L424 856" stroke="#000" stroke-width="2.2" />
<path d="M418.5 869L424 864" stroke="#000" stroke-width="2.2" />
<path d="M418.5 876L424 871" stroke="#000" stroke-width="2.2" />
<path d="M418.5 882L424 877" stroke="#000" stroke-width="2.2" />
<path d="M418.5 887L424 882" stroke="#000" stroke-width="2.2" />
<path d="M404.4 842.2L446.9 842.2" stroke="#000" stroke-width="2.2" />
<path d="M358.1 830.8L409.2 830.8" stroke="#000" stroke-width="2.4" />
<path d="M358.1 853.4L409.2 853.4" stroke="#000" stroke-width="2.4" />
<path d="M339 806.2L366.7 806.2L366.7 830.8" stroke="#000" stroke-width="2.4" fill="none" />
<path d="M366.7 830.8L363.4 817.8L370 817.8Z" fill="#000"/>
<path d="M366.7 888.2L366.7 853.4" stroke="#000" stroke-width="2.4" />
<path d="M366.7 853.4L370 866.4L363.4 866.4Z" fill="#000"/>
<text transform="matrix(0.86 0 0 1 268.1 816.4)" x="0" y="0" font-size="27" text-anchor="middle" fill="#000" stroke="#000" stroke-width="0.6">Ø</text>
<text class="cad" xml:space="preserve" transform="matrix(0.6 0 0 1 280.5 815.2)" x="10.5 31.5 52.5 73.5" y="0" font-size="24" font-weight="bold" fill="#000" >1.65</text>
<path d="M417.5 895L417.5 931.3" stroke="#000" stroke-width="2.4" />
<path d="M432.5 895L432.5 931.3" stroke="#000" stroke-width="2.4" />
<path d="M383 922L417.5 922" stroke="#000" stroke-width="2.4" />
<path d="M417.5 922L404.5 925.3L404.5 918.7Z" fill="#000"/>
<path d="M432.5 922L464.4 922" stroke="#000" stroke-width="2.4" />
<path d="M432.5 922L445.5 918.7L445.5 925.3Z" fill="#000"/>
<text class="cad" xml:space="preserve" transform="matrix(0.6 0 0 1 471.35 930.7)" x="9.75" y="0" font-size="24" font-weight="bold" fill="#000" >1</text>
</g>
<g id="pin">
<text transform="matrix(0.86 0 0 1 503 774)" x="0" y="0" font-size="27" text-anchor="middle" fill="#000" stroke="#000" stroke-width="0.6">Ø</text>
<text class="cad" xml:space="preserve" transform="matrix(0.6 0 0 1 515.4 772.8)" x="10.5 31.5 52.5" y="0" font-size="24" font-weight="bold" fill="#000" >1.8</text>
<path d="M560.8 763.7L587.3 763.7L587.3 829.2" stroke="#000" stroke-width="2.4" fill="none" />
<path d="M587.3 829.2L584 816.2L590.6 816.2Z" fill="#000"/>
<path d="M587.3 889.2L587.3 854.4" stroke="#000" stroke-width="2.4" />
<path d="M587.3 854.4L590.6 867.4L584 867.4Z" fill="#000"/>
<path d="M578.4 829.2L619.9 829.2" stroke="#000" stroke-width="2.4" />
<path d="M578.4 854.4L619.9 854.4" stroke="#000" stroke-width="2.4" />
<path d="M655 822.8L626.3 822.8L626.3 861.1L655 861.1" stroke="#000" stroke-width="2.6" fill="none" />
<path d="M652 822.8C655.5 830 656 840 655.5 845C655 852 653.5 857 652 861.1" stroke="#000" stroke-width="2" fill="none" />
<path d="M630 829.2L652.5 829.2" stroke="#000" stroke-width="1.8" />
<path d="M630 854.4L652.5 854.4" stroke="#000" stroke-width="1.8" />
<path d="M630 829.2L630 854.4" stroke="#000" stroke-width="1.8" />
<path d="M628 829L632 823" stroke="#000" stroke-width="1.3" />
<path d="M628 861L632 855" stroke="#000" stroke-width="1.3" />
<path d="M632 829L636 823" stroke="#000" stroke-width="1.3" />
<path d="M632 861L636 855" stroke="#000" stroke-width="1.3" />
<path d="M636 829L640 823" stroke="#000" stroke-width="1.3" />
<path d="M636 861L640 855" stroke="#000" stroke-width="1.3" />
<path d="M640 829L644 823" stroke="#000" stroke-width="1.3" />
<path d="M640 861L644 855" stroke="#000" stroke-width="1.3" />
<path d="M644 829L648 823" stroke="#000" stroke-width="1.3" />
<path d="M644 861L648 855" stroke="#000" stroke-width="1.3" />
<path d="M648 829L652 823" stroke="#000" stroke-width="1.3" />
<path d="M648 861L652 855" stroke="#000" stroke-width="1.3" />
<path d="M652 829L656 823" stroke="#000" stroke-width="1.3" />
<path d="M652 861L656 855" stroke="#000" stroke-width="1.3" />
<path d="M653 822.6L672.6 822.6" stroke="#000" stroke-width="2.4" fill="none" />
<path d="M653 860L658 862L672.6 862" stroke="#000" stroke-width="2.4" fill="none" />
<rect x="672.6" y="807.8" width="9.6" height="68.6" rx="2" ry="2" stroke="#000" stroke-width="2.4" fill="none"/>
<path d="M682.2 815L752.4 815" stroke="#000" stroke-width="2.4" />
<path d="M682.2 870L752.4 870" stroke="#000" stroke-width="2.4" />
<rect x="715.7" y="809.8" width="4.8" height="64.9" rx="1.5" ry="1.5" stroke="#000" stroke-width="2.4" fill="none"/>
<rect x="736.4" y="809.8" width="4.8" height="64.9" rx="1.5" ry="1.5" stroke="#000" stroke-width="2.4" fill="none"/>
<rect x="752.4" y="812" width="100.6" height="61.2" stroke="#000" stroke-width="2.4" fill="none"/>
<path d="M853 812L936 808.7L936 839.7" stroke="#000" stroke-width="2.4" fill="none" />
<path d="M853 873.2L936 876.4L936 845.1" stroke="#000" stroke-width="2.4" fill="none" />
<path d="M853 839.7L936 839.7" stroke="#000" stroke-width="2.4" />
<path d="M853 845.1L936 845.1" stroke="#000" stroke-width="2.4" />
<path d="M612 842L950.3 842" stroke="#000" stroke-width="2.3" stroke-dasharray="30 6 8 6"/>
<path d="M626.3 871.6L626.3 989.8" stroke="#000" stroke-width="2.4" />
<path d="M936 884.4L936 989.8" stroke="#000" stroke-width="2.4" />
<path d="M626.3 981.1L716 981.1" stroke="#000" stroke-width="2.4" />
<path d="M626.3 981.1L640.3 977.8L640.3 984.4Z" fill="#000"/>
<path d="M844 981.1L936 981.1" stroke="#000" stroke-width="2.4" />
<path d="M936 981.1L922 984.4L922 977.8Z" fill="#000"/>
<text class="cad" xml:space="preserve" transform="matrix(0.6 0 0 1 724.5 989.3)" x="10.17 30.5 50.83 71.17 91.5 111.83 132.17 152.5 172.83" y="0" font-size="24" font-weight="bold" fill="#000" >22.3 REF.</text>
</g>
<g id="side">
<rect x="1243.5" y="666.4" width="28.2" height="352.2" stroke="#000" stroke-width="2.4" fill="none"/>
<path d="M1243.5 707.1L1271.7 707.1" stroke="#000" stroke-width="2.4" />
<path d="M1243.5 977.3L1271.7 977.3" stroke="#000" stroke-width="2.4" />
<path d="M1271.7 696L1271.7 700.5L1275 703.6L1405 703.6L1407.3 706L1407.3 842.2" stroke="#000" stroke-width="2.4" fill="none" />
<path d="M1271.7 988.4L1271.7 983.9L1275 980.8L1405 980.8L1407.3 978.4L1407.3 842.2" stroke="#000" stroke-width="2.4" fill="none" />
<path d="M1411 709L1411 975.4" stroke="#000" stroke-width="1.8" />
<path d="M1405 703.6Q1411 704 1411 710" stroke="#000" stroke-width="1.8" fill="none" />
<path d="M1405 980.8Q1411 980.4 1411 974.4" stroke="#000" stroke-width="1.8" fill="none" />
<path d="M1411 717.9L1467.5 717.9" stroke="#000" stroke-width="2.4" fill="none" />
<path d="M1411 966.5L1467.5 966.5" stroke="#000" stroke-width="2.4" fill="none" />
<path d="M1467.5 717.9L1467.5 966.5" stroke="#000" stroke-width="2.4" />
<path d="M1467.5 717.9L1477.2 707.8L1481.6 712.2L1488.2 705.2L1495.1 712.2L1502 705.2L1508.9 712.2L1515.8 705.2L1522.4 712.2L1528.9 705.2L1543.4 721.3L1568.9 721.3" stroke="#000" stroke-width="2.4" fill="none" stroke-linejoin="round"/>
<path d="M1467.5 966.5L1476.3 974.2L1481.4 979.2L1488.3 973L1495.2 979.2L1502 973L1508.3 979.2L1515.2 973L1522.7 979.2L1529 973.6L1532.8 974.4L1544 963.1L1568.9 963.1" stroke="#000" stroke-width="2.4" fill="none" stroke-linejoin="round"/>
<path d="M1481.6 713L1488.3 972.5" stroke="#000" stroke-width="3.2" />
<path d="M1495.1 713L1502 972.5" stroke="#000" stroke-width="3.2" />
<path d="M1508.9 713L1515.2 972.5" stroke="#000" stroke-width="3.2" />
<path d="M1522.4 713L1529 972.5" stroke="#000" stroke-width="3.2" />
<path d="M1485.3 708.5L1492.3 976" stroke="#000" stroke-width="1.6" />
<path d="M1491.1 708.5L1498.1 976" stroke="#000" stroke-width="1.6" />
<path d="M1499.1 708.5L1505.4 976" stroke="#000" stroke-width="1.6" />
<path d="M1504.9 708.5L1511.2 976" stroke="#000" stroke-width="1.6" />
<path d="M1512.9 708.5L1519.8 976" stroke="#000" stroke-width="1.6" />
<path d="M1518.7 708.5L1525.6 976" stroke="#000" stroke-width="1.6" />
<path d="M1477.2 708.5L1481.4 977" stroke="#000" stroke-width="1.5" />
<path d="M1526.5 708L1532.5 974" stroke="#000" stroke-width="1.5" />
<path d="M1471 845L1471 968.4" stroke="#000" stroke-width="1.8" />
<path d="M1544.7 721.3L1544.7 963.1" stroke="#000" stroke-width="2.4" />
<rect x="1568.9" y="714.2" width="21.9" height="256" rx="4" ry="4" stroke="#000" stroke-width="2.4" fill="none"/>
<path d="M1243.5 774L1243.5 778L1240 782.2L1146.7 782.2L1146.7 842.2" stroke="#000" stroke-width="2.4" fill="none" />
<path d="M1243.5 910.4L1243.5 906.4L1240 902.2L1146.7 902.2L1146.7 842.2" stroke="#000" stroke-width="2.4" fill="none" />
<path d="M1146.7 796.9L1184.3 796.9" stroke="#000" stroke-width="2.4" />
<path d="M1146.7 887.8L1184.3 887.8" stroke="#000" stroke-width="2.4" />
<path d="M1184.3 782.2L1184.3 796.9" stroke="#000" stroke-width="1.8" fill="none" />
<path d="M1184.3 902.2L1184.3 887.5" stroke="#000" stroke-width="1.8" fill="none" />
<path d="M1146.7 790L1154.6 796.9" stroke="#000" stroke-width="1.6" fill="none" />
<path d="M1146.7 894.4L1154.6 887.5" stroke="#000" stroke-width="1.6" fill="none" />
<path d="M1154.6 796.9L1154.6 887.8" stroke="#000" stroke-width="1.8" />
<path d="M1184.3 796.9C1186 806 1190 812 1190.5 822C1191 832 1187 840 1187.5 850C1188 864 1186 876 1184.3 887.8" stroke="#000" stroke-width="1.8" fill="none" />
<path d="M1148 795.9L1159 784" stroke="#000" stroke-width="1.8" />
<path d="M1148 900.6L1159 888.8" stroke="#000" stroke-width="1.8" />
<path d="M1158 795.9L1169 784" stroke="#000" stroke-width="1.8" />
<path d="M1158 900.6L1169 888.8" stroke="#000" stroke-width="1.8" />
<path d="M1168 795.9L1179 784" stroke="#000" stroke-width="1.8" />
<path d="M1168 900.6L1179 888.8" stroke="#000" stroke-width="1.8" />
<path d="M1178 795.9L1184 790" stroke="#000" stroke-width="1.8" />
<path d="M1178 900.6L1184 894.8" stroke="#000" stroke-width="1.8" />
<path d="M1133 842.2L1603.8 842.2" stroke="#000" stroke-width="2.3" stroke-dasharray="34 7 9 7"/>
<text transform="matrix(0.86 0 0 1 1055.6 731.8)" x="0" y="0" font-size="27" text-anchor="middle" fill="#000" stroke="#000" stroke-width="0.6">Ø</text>
<text class="cad" xml:space="preserve" transform="matrix(0.6 0 0 1 1068 730.6)" x="10.5 31.5 52.5" y="0" font-size="24" font-weight="bold" fill="#000" >8.5</text>
<path d="M1113.3 721.8L1162.3 721.8L1162.3 782.2" stroke="#000" stroke-width="2.4" fill="none" />
<path d="M1162.3 782.2L1159 768.2L1165.6 768.2Z" fill="#000"/>
<path d="M1162.3 936.2L1162.3 901.6" stroke="#000" stroke-width="2.4" />
<path d="M1162.3 901.6L1165.6 915.6L1159 915.6Z" fill="#000"/>
<text transform="matrix(0.86 0 0 1 1055.6 851.5)" x="0" y="0" font-size="27" text-anchor="middle" fill="#000" stroke="#000" stroke-width="0.6">Ø</text>
<text class="cad" xml:space="preserve" transform="matrix(0.6 0 0 1 1068 850.3)" x="10.5 31.5 52.5" y="0" font-size="24" font-weight="bold" fill="#000" >6.6</text>
<path d="M1068.4 796.9L1146.7 796.9" stroke="#000" stroke-width="2.4" />
<path d="M1068.4 887.8L1146.7 887.8" stroke="#000" stroke-width="2.4" />
<path d="M1077.8 796.9L1077.8 826" stroke="#000" stroke-width="2.4" />
<path d="M1077.8 796.9L1081.1 810.9L1074.5 810.9Z" fill="#000"/>
<path d="M1077.8 859L1077.8 887.8" stroke="#000" stroke-width="2.4" />
<path d="M1077.8 887.8L1074.5 873.8L1081.1 873.8Z" fill="#000"/>
<text class="cad" xml:space="preserve" transform="matrix(0.6 0 0 1 1547.5 669.6)" x="10.29 30.88 51.46 72.04 92.62 113.21 133.79 154.38 174.96 195.54 216.12" y="0" font-size="24" font-weight="bold" fill="#000" >M20XP1.0-6g</text>
<path d="M1548 658.1L1516.7 658.1L1501.1 705.1" stroke="#000" stroke-width="2.4" fill="none" />
<path d="M1501.1 705.1L1502.38 690.77L1508.64 692.85Z" fill="#000"/>
<path d="M1146.7 910.4L1146.7 1172.2" stroke="#000" stroke-width="2.4" />
<path d="M1243.5 1027L1243.5 1122.3" stroke="#000" stroke-width="2.4" />
<path d="M1271.7 1027L1271.7 1079.7" stroke="#000" stroke-width="2.4" />
<path d="M1590.6 976.4L1590.6 1172.2" stroke="#000" stroke-width="2.4" />
<path d="M1208.3 1070.9L1243.5 1070.9" stroke="#000" stroke-width="2.4" />
<path d="M1243.5 1070.9L1229.5 1074.2L1229.5 1067.6Z" fill="#000"/>
<path d="M1271.7 1070.9L1306 1070.9" stroke="#000" stroke-width="2.4" />
<path d="M1271.7 1070.9L1285.7 1067.6L1285.7 1074.2Z" fill="#000"/>
<text class="cad" xml:space="preserve" transform="matrix(0.6 0 0 1 1251.55 1079.2)" x="9.75" y="0" font-size="24" font-weight="bold" fill="#000" >2</text>
<path d="M1243.5 1114.1L1366.2 1114.1" stroke="#000" stroke-width="2.4" />
<path d="M1243.5 1114.1L1257.5 1110.8L1257.5 1117.4Z" fill="#000"/>
<path d="M1468 1114.1L1590.6 1114.1" stroke="#000" stroke-width="2.4" />
<path d="M1590.6 1114.1L1576.6 1117.4L1576.6 1110.8Z" fill="#000"/>
<text class="cad" xml:space="preserve" transform="matrix(0.6 0 0 1 1373 1121.9)" x="10.17 30.5 50.83 71.17 91.5 111.83 132.17" y="0" font-size="24" font-weight="bold" fill="#000" >25 REF.</text>
<path d="M1146.7 1162.5L1317.8 1162.5" stroke="#000" stroke-width="2.4" />
<path d="M1146.7 1162.5L1160.7 1159.2L1160.7 1165.8Z" fill="#000"/>
<path d="M1419.6 1162.5L1590.6 1162.5" stroke="#000" stroke-width="2.4" />
<path d="M1590.6 1162.5L1576.6 1165.8L1576.6 1159.2Z" fill="#000"/>
<text class="cad" xml:space="preserve" transform="matrix(0.6 0 0 1 1324.6 1170.9)" x="10.17 30.5 50.83 71.17 91.5 111.83 132.17" y="0" font-size="24" font-weight="bold" fill="#000" >32 REF.</text>
</g>
<g id="front">
<path d="M1939 666.5L2206.6 666.5L2248.6 708.5L2248.6 976.1L2206.6 1018.1L1939 1018.1L1897 976.1L1897 708.5Z" stroke="#000" stroke-width="2.4" fill="none" />
<circle cx="2072.8" cy="842.3" r="146" stroke="#000" stroke-width="2.4" fill="none"/>
<circle cx="2072.8" cy="842.3" r="139.5" stroke="#000" stroke-width="1.9" fill="none"/>
<circle cx="2072.8" cy="842.3" r="136.3" stroke="#000" stroke-width="1.9" fill="none"/>
<circle cx="2072.8" cy="842.3" r="131" stroke="#000" stroke-width="2.1" fill="none"/>
<circle cx="2072.8" cy="842.3" r="126" stroke="#000" stroke-width="4" fill="none"/>
<circle cx="2072.8" cy="842.3" r="109" stroke="#000" stroke-width="2.3" fill="none"/>
<circle cx="2072.8" cy="842.3" r="102" stroke="#000" stroke-width="2.1" fill="none"/>
<circle cx="2072.8" cy="842.3" r="95.3" stroke="#000" stroke-width="2.1" fill="none"/>
<circle cx="2072.8" cy="842.3" r="85" stroke="#000" stroke-width="2.3" fill="none"/>
<circle cx="2072.8" cy="842.3" r="79.5" stroke="#000" stroke-width="3.6" fill="none"/>
<circle cx="2072.8" cy="842.3" r="75" stroke="#000" stroke-width="1.9" fill="none"/>
<circle cx="2072.8" cy="842.3" r="69.6" stroke="#000" stroke-width="2.5" fill="none"/>
<circle cx="2072.8" cy="842.3" r="33.7" stroke="#000" stroke-width="3.2" fill="none"/>
<circle cx="2072.8" cy="842.3" r="25.4" stroke="#000" stroke-width="2.1" fill="none"/>
<circle cx="2072.8" cy="842.3" r="21.3" stroke="#000" stroke-width="2.1" fill="none"/>
<path d="M2109.88 780.58L2112.97 775.44" stroke="#fff" stroke-width="2.4" />
<path d="M2035.72 780.58L2032.63 775.44" stroke="#fff" stroke-width="2.4" />
<path d="M2035.72 904.02L2032.63 909.16" stroke="#fff" stroke-width="2.4" />
<path d="M2109.88 904.02L2112.97 909.16" stroke="#fff" stroke-width="2.4" />
<path d="M2098.2 842.3L2105.8 842.3" stroke="#000" stroke-width="3.4" />
<path d="M2072.8 816.9L2072.8 809.3" stroke="#000" stroke-width="3.4" />
<path d="M2047.4 842.3L2039.8 842.3" stroke="#000" stroke-width="3.4" />
<path d="M2072.8 867.7L2072.8 875.3" stroke="#000" stroke-width="3.4" />
<circle cx="1941.3" cy="710.8" r="23.8" stroke="#000" stroke-width="2.4" fill="none"/>
<path d="M1904.3 710.8L1978.3 710.8" stroke="#000" stroke-width="2.3" stroke-dasharray="25 6.5 11 6.5 25"/>
<path d="M1941.3 673.8L1941.3 747.8" stroke="#000" stroke-width="2.3" stroke-dasharray="25 6.5 11 6.5 25"/>
<circle cx="1941.3" cy="973.8" r="23.8" stroke="#000" stroke-width="2.4" fill="none"/>
<path d="M1904.3 973.8L1978.3 973.8" stroke="#000" stroke-width="2.3" stroke-dasharray="25 6.5 11 6.5 25"/>
<path d="M1941.3 936.8L1941.3 1010.8" stroke="#000" stroke-width="2.3" stroke-dasharray="25 6.5 11 6.5 25"/>
<circle cx="2204.3" cy="710.8" r="23.8" stroke="#000" stroke-width="2.4" fill="none"/>
<path d="M2167.3 710.8L2241.3 710.8" stroke="#000" stroke-width="2.3" stroke-dasharray="25 6.5 11 6.5 25"/>
<path d="M2204.3 673.8L2204.3 747.8" stroke="#000" stroke-width="2.3" stroke-dasharray="25 6.5 11 6.5 25"/>
<circle cx="2204.3" cy="973.8" r="23.8" stroke="#000" stroke-width="2.4" fill="none"/>
<path d="M2167.3 973.8L2241.3 973.8" stroke="#000" stroke-width="2.3" stroke-dasharray="25 6.5 11 6.5 25"/>
<path d="M2204.3 936.8L2204.3 1010.8" stroke="#000" stroke-width="2.3" stroke-dasharray="25 6.5 11 6.5 25"/>
<path d="M1883.7 842.3L2262.3 842.3" stroke="#000" stroke-width="2.3" stroke-dasharray="22 7 7 7"/>
<path d="M2072.8 652.4L2072.8 1031.8" stroke="#000" stroke-width="2.3" stroke-dasharray="22 7 7 7"/>
<path d="M1817.7 710.8L1893.4 710.8" stroke="#000" stroke-width="2.4" />
<path d="M1817.7 973.8L1893.4 973.8" stroke="#000" stroke-width="2.4" />
<path d="M1827.4 710.8L1827.4 828" stroke="#000" stroke-width="2.4" />
<path d="M1827.4 710.8L1830.7 724.8L1824.1 724.8Z" fill="#000"/>
<path d="M1827.4 857L1827.4 973.8" stroke="#000" stroke-width="2.4" />
<path d="M1827.4 973.8L1824.1 959.8L1830.7 959.8Z" fill="#000"/>
<text class="cad" xml:space="preserve" transform="matrix(0.6 0 0 1 1813.7 850.7)" x="10.5 31.5" y="0" font-size="24" font-weight="bold" fill="#000" >19</text>
<text transform="matrix(0.86 0 0 1 1784.3 640)" x="0" y="0" font-size="27" text-anchor="middle" fill="#000" stroke="#000" stroke-width="0.6">Ø</text>
<text class="cad" xml:space="preserve" transform="matrix(0.6 0 0 1 1797.2 638.8)" x="9.83 29.5" y="0" font-size="24" font-weight="bold" fill="#000" >32</text>
<path d="M1830 630L1865 630L1916.7 682.3" stroke="#000" stroke-width="2.4" fill="none" />
<path d="M1916.7 682.3L1904.51 674.66L1909.2 670.02Z" fill="#000"/>
<text class="cad" xml:space="preserve" transform="matrix(0.6 0 0 1 2042 614.4)" x="9.58 28.75" y="0" font-size="24" font-weight="bold" fill="#000" >4-</text>
<text transform="matrix(0.86 0 0 1 2075.1 615.6)" x="0" y="0" font-size="27" text-anchor="middle" fill="#000" stroke="#000" stroke-width="0.6">Ø</text>
<text class="cad" xml:space="preserve" transform="matrix(0.6 0 0 1 2088 614.4)" x="9.67 29 48.33" y="0" font-size="24" font-weight="bold" fill="#000" >3.4</text>
<path d="M2131.5 605.8L2159.4 605.8L2194.4 686.2" stroke="#000" stroke-width="2.4" fill="none" />
<path d="M2194.4 686.2L2185.79 674.68L2191.84 672.05Z" fill="#000"/>
<path d="M1941.3 1022.1L1941.3 1084.3" stroke="#000" stroke-width="2.4" />
<path d="M2204.3 1022.1L2204.3 1084.3" stroke="#000" stroke-width="2.4" />
<path d="M1941.3 1076.5L2053.8 1076.5" stroke="#000" stroke-width="2.4" />
<path d="M1941.3 1076.5L1955.3 1073.2L1955.3 1079.8Z" fill="#000"/>
<path d="M2094.2 1076.5L2204.3 1076.5" stroke="#000" stroke-width="2.4" />
<path d="M2204.3 1076.5L2190.3 1079.8L2190.3 1073.2Z" fill="#000"/>
<text class="cad" xml:space="preserve" transform="matrix(0.6 0 0 1 2061 1085.2)" x="10.33 31" y="0" font-size="24" font-weight="bold" fill="#000" >19</text>
<path d="M1897 985.2L1897 1132.8" stroke="#000" stroke-width="2.4" />
<path d="M2248.6 985.2L2248.6 1132.8" stroke="#000" stroke-width="2.4" />
<path d="M1897 1123.9L2013 1123.9" stroke="#000" stroke-width="2.4" />
<path d="M1897 1123.9L1911 1120.6L1911 1127.2Z" fill="#000"/>
<path d="M2129 1123.9L2248.6 1123.9" stroke="#000" stroke-width="2.4" />
<path d="M2248.6 1123.9L2234.6 1127.2L2234.6 1120.6Z" fill="#000"/>
<text class="cad" xml:space="preserve" transform="matrix(0.6 0 0 1 2022 1134)" x="10.21 30.62 51.04 71.46 91.88 112.29 132.71 153.12" y="0" font-size="24" font-weight="bold" fill="#000" >25.4 SQ.</text>
</g>
<g id="iso">
<path d="M1953.7 324.2C1960 328 1963.5 337 1962.9 347C1962 362 1954 374 1945.8 379.5" stroke="#000" stroke-width="2.2" fill="#fff" />
<path d="M1945.8 266.3L1956.3 265L1961.6 286.1L1940.5 416.3L1926.1 436.7L1915.5 432.8" stroke="#000" stroke-width="2.2" fill="#fff" stroke-linejoin="round"/>
<path d="M1866.2 267L1877.4 251.8L1945.8 266.3L1950.4 288L1929.3 412.4L1915.5 432.8L1847.1 422.2L1842.5 405.1Z" stroke="#000" stroke-width="2.2" fill="#fff" stroke-linejoin="round"/>
<path d="M1950.4 288L1961.6 286.1" stroke="#000" stroke-width="2.2" />
<path d="M1929.3 412.4L1940.5 416.3" stroke="#000" stroke-width="2.2" />
<ellipse cx="1938.9" cy="284.7" rx="5.9" ry="11.8" transform="rotate(10 1938.9 284.7)" stroke="#000" stroke-width="2" fill="#fff"/>
<ellipse cx="1916.8" cy="412.4" rx="5.9" ry="11.8" transform="rotate(10 1916.8 412.4)" stroke="#000" stroke-width="2" fill="#fff"/>
<ellipse cx="1876" cy="266.5" rx="5.9" ry="11.8" transform="rotate(10 1876 266.5)" stroke="#000" stroke-width="2" fill="#fff"/>
<ellipse cx="1851" cy="407.8" rx="5.9" ry="11.8" transform="rotate(10 1851 407.8)" stroke="#000" stroke-width="2" fill="#fff"/>
<g transform="translate(1765.1 321.2) rotate(10.5)">
<path d="M75 -69.5L131.5 -69.5A34.75 69.5 0 0 1 131.5 69.5L75 69.5Z" stroke="#000" stroke-width="2.2" fill="#fff"/>
<ellipse cx="75" cy="0" rx="34.75" ry="69.5" stroke="#000" stroke-width="2.2" fill="#fff"/>
<path d="M128.3 -69.5A34.75 69.5 0 0 1 128.3 69.5" stroke="#000" stroke-width="1.6" fill="none"/>
<path d="M78 -69.5A34.75 69.5 0 0 1 78 69.5" stroke="#000" stroke-width="1.8" fill="none"/>
<path d="M99.02 -50.8l2.6 -3.4" stroke="#000" stroke-width="1.2"/>
<path d="M103.14 -41.6l2.6 -3.4" stroke="#000" stroke-width="1.2"/>
<path d="M106.04 -32.4l2.6 -3.4" stroke="#000" stroke-width="1.2"/>
<path d="M108.06 -23.2l2.6 -3.4" stroke="#000" stroke-width="1.2"/>
<path d="M109.34 -14l2.6 -3.4" stroke="#000" stroke-width="1.2"/>
<path d="M109.97 -4.8l2.6 -3.4" stroke="#000" stroke-width="1.2"/>
<path d="M109.98 4.4l2.6 -3.4" stroke="#000" stroke-width="1.2"/>
<path d="M109.38 13.6l2.6 -3.4" stroke="#000" stroke-width="1.2"/>
<path d="M108.13 22.8l2.6 -3.4" stroke="#000" stroke-width="1.2"/>
<path d="M106.15 32l2.6 -3.4" stroke="#000" stroke-width="1.2"/>
<path d="M103.29 41.2l2.6 -3.4" stroke="#000" stroke-width="1.2"/>
<path d="M99.23 50.4l2.6 -3.4" stroke="#000" stroke-width="1.2"/>
<path d="M93.18 59.6l2.6 -3.4" stroke="#000" stroke-width="1.2"/>
<path d="M50 -60.5L75 -60.5A30.25 60.5 0 0 1 75 60.5L50 60.5Z" stroke="#000" stroke-width="2.2" fill="#fff"/>
<ellipse cx="50" cy="0" rx="30.25" ry="60.5" stroke="#000" stroke-width="2.2" fill="#fff"/>
<path d="M20.5 -67.5L50 -67.5A33.75 67.5 0 0 1 50 67.5L20.5 67.5Z" stroke="#000" stroke-width="3" fill="#fff"/>
<ellipse cx="20.5" cy="0" rx="33.75" ry="67.5" stroke="#000" stroke-width="3" fill="#fff"/>
<path d="M45.8 -67.5A33.75 67.5 0 0 1 45.8 67.5" stroke="#000" stroke-width="3.3" fill="none"/>
<path d="M41.2 -67.5A33.75 67.5 0 0 1 41.2 67.5" stroke="#000" stroke-width="3.3" fill="none"/>
<path d="M36.6 -67.5A33.75 67.5 0 0 1 36.6 67.5" stroke="#000" stroke-width="3.3" fill="none"/>
<path d="M32 -67.5A33.75 67.5 0 0 1 32 67.5" stroke="#000" stroke-width="3.3" fill="none"/>
<path d="M24.5 -66A33 66 0 0 1 24.5 66" stroke="#000" stroke-width="1.6" fill="none"/>
<path d="M12.5 -62L20.5 -62A31 62 0 0 1 20.5 62L12.5 62Z" stroke="#000" stroke-width="2.4" fill="#fff"/>
<ellipse cx="12.5" cy="0" rx="31" ry="62" stroke="#000" stroke-width="2.4" fill="#fff"/>
<path d="M0 -65.2L12.5 -65.2A32.6 65.2 0 0 1 12.5 65.2L0 65.2Z" stroke="#000" stroke-width="3.6" fill="#fff"/>
<ellipse cx="0" cy="0" rx="32.6" ry="65.2" stroke="#000" stroke-width="3.6" fill="#fff"/>
<ellipse cx="-0.3" cy="0" rx="28.75" ry="57.5" stroke="#000" stroke-width="3.4" fill="#fff"/>
<clipPath id="rimClip"><ellipse cx="-0.3" cy="0" rx="28.5" ry="57"/></clipPath>
<g clip-path="url(#rimClip)">
<ellipse cx="14.5" cy="0" rx="17.5" ry="37.5" stroke="#000" stroke-width="4.6" fill="none"/>
<path d="M2 -12L26 -17M2 15L26 13M8 -1L24 -3" stroke="#000" stroke-width="3"/>
<ellipse cx="18" cy="0" rx="10" ry="22" stroke="#000" stroke-width="3" fill="none"/>
<ellipse cx="20" cy="0" rx="6" ry="11" stroke="#000" stroke-width="2.4" fill="none"/>
</g>
</g>
<text class="cad" xml:space="preserve" transform="matrix(0.66 0 0 1 1755.6 481.4)" x="11.52 34.55 57.58 80.61 103.64 126.67 149.7 172.73 195.76 218.79 241.82 264.85" y="0" font-size="27" font-weight="bold" fill="#000" >SCALE  1.000</text>
</g>
</svg></body></html>
